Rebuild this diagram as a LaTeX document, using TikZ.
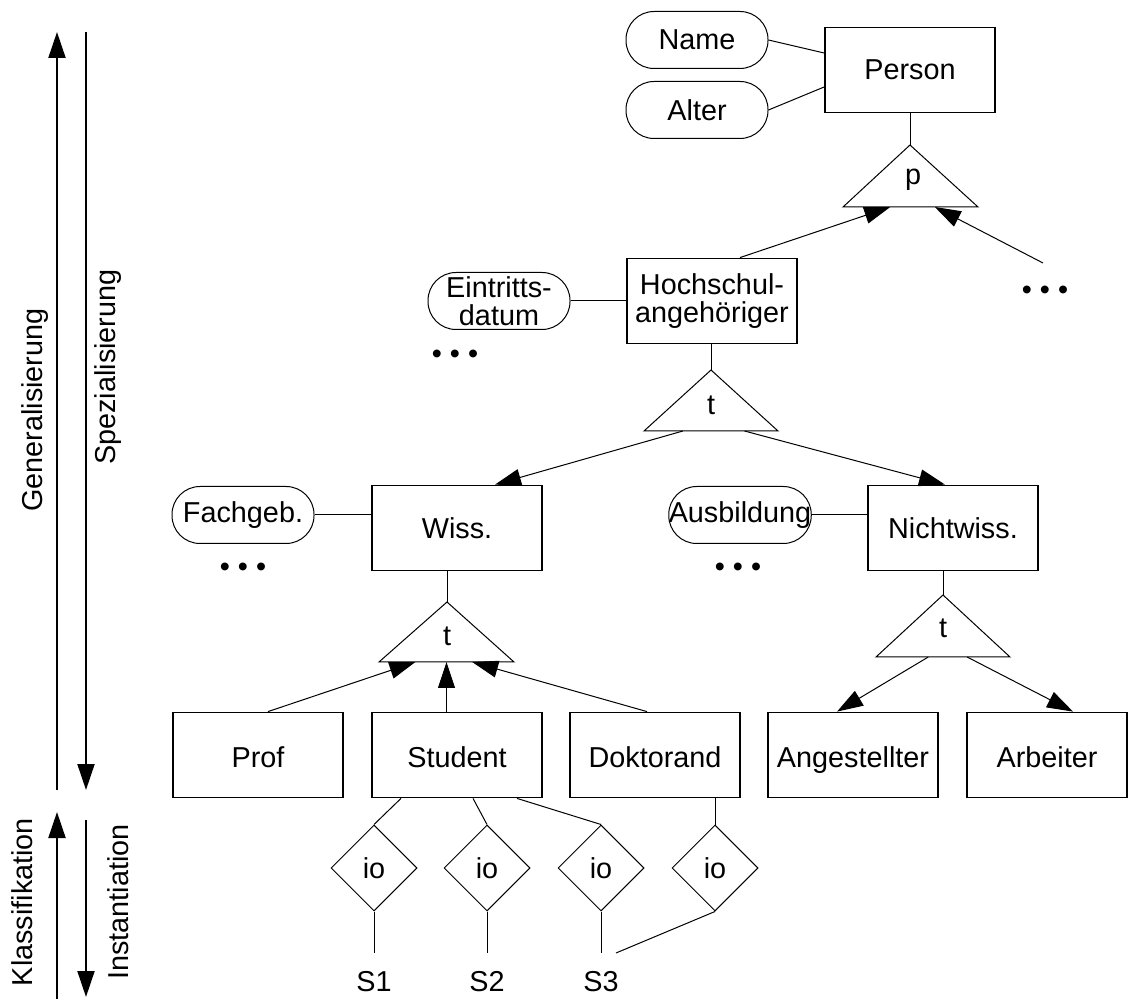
\documentclass[tikz,border=0pt]{standalone}
\usepackage{fontspec}
\setmainfont{Liberation Sans}
\usetikzlibrary{arrows.meta,shapes.geometric,calc}

\begin{document}
\begin{tikzpicture}[
  x=0.5pt, y=-0.5pt,
  font=\fontsize{14.4}{14}\selectfont,
  box/.style={draw, line width=0.9pt, minimum width=85pt, minimum height=42.5pt, inner sep=0pt, align=center},
  leaf/.style={box, text height=12pt, text depth=0pt},
  attr/.style={draw, line width=0.5pt, rounded corners=14pt, minimum width=71pt, minimum height=28.5pt, inner sep=0pt, align=center},
  isa/.style={draw, line width=0.5pt},
  io/.style={draw, diamond, line width=0.5pt, minimum width=43pt, minimum height=43pt, inner sep=0pt},
  lnk/.style={line width=0.5pt},
  arr/.style={-{Triangle[length=13pt, width=8.5pt]}, line width=0.5pt},
  bigarr/.style={-{Triangle[length=13pt, width=8.5pt]}, line width=1pt},
  side/.style={rotate=90, inner sep=0pt},
  inst/.style={anchor=north, inner xsep=0pt, inner ysep=9pt}
]
\useasboundingbox (0,0) rectangle (1130,999);
% left: direction arrows
\coordinate (genA) at (57,790);
\coordinate (genB) at (57,32);
\coordinate (spzA) at (86,32);
\coordinate (spzB) at (86,790);
\coordinate (klaA) at (57,999);
\coordinate (klaB) at (57,812);
\coordinate (insA) at (86,820);
\coordinate (insB) at (86,997);
\draw[bigarr] (genA) -- (genB);
\draw[bigarr] (spzA) -- (spzB);
\draw[bigarr] (klaA) -- (klaB);
\draw[bigarr] (insA) -- (insB);
\node[side] (gen) at (35,410) {Generalisierung};
\node[side] (spz) at (108,367) {Spezialisierung};
\node[side] (kla) at (22,902) {Klassifikation};
\node[side] (ins) at (118,902) {Instantiation};
% Person
\node[box] (person) at (910,70) {Person};
\node[attr] (name) at (697,40) {Name};
\node[attr] (alter) at (697,110) {Alter};
\draw[lnk] (name.east) -- ([yshift=8.5pt]person.west);
\draw[lnk] (alter.east) -- ([yshift=-8.5pt]person.west);
\coordinate (pTop) at (910,145);
\coordinate (pL) at (843,207);
\coordinate (pR) at (978,207);
\draw[isa] (pTop) -- (pL) -- (pR) -- cycle;
\node (p) at (913,180) {p};
\draw[lnk] (person.south) -- (pTop);
\node[inner sep=0pt] (pDots) at (1045,293) {• • •};
\coordinate (pOther) at (1043,263);
\draw[arr] (pOther) -- ($(pL)!0.68!(pR)$);
% Hochschulangehoeriger
\node[box] (hsa) at (712,301) {Hochschul-\\angehöriger};
\node[attr] (eintr) at (499,301) {Eintritts-\\datum};
\draw[lnk] (eintr.east) -- (hsa.west);
\node[inner sep=0pt] (hDots) at (455,357) {• • •};
\draw[arr] ([xshift=14pt]hsa.north) -- ($(pL)!0.35!(pR)$);
\coordinate (t1Top) at (711,370);
\coordinate (t1L) at (644,431);
\coordinate (t1R) at (778,431);
\draw[isa] (t1Top) -- (t1L) -- (t1R) -- cycle;
\node (t1) at (711,405) {t};
\draw[lnk] (t1Top |- hsa.south) -- (t1Top);
% Wiss. / Nichtwiss.
\node[box] (wiss) at (457,528) {Wiss.};
\node[attr] (fach) at (243,515) {Fachgeb.};
\draw[lnk] (fach.east) -- (fach.east -| wiss.west);
\node[inner sep=0pt] (wDots) at (243,570) {• • •};
\node[box] (nwiss) at (953,528) {Nichtwiss.};
\node[attr] (ausb) at (740,515) {Ausbildung};
\draw[lnk] (ausb.east) -- (ausb.east -| nwiss.west);
\node[inner sep=0pt] (nDots) at (738,570) {• • •};
\draw[arr] ($(t1L)!0.29!(t1R)$) -- ([xshift=19pt]wiss.north);
\draw[arr] ($(t1L)!0.75!(t1R)$) -- ([xshift=-4pt]nwiss.north);
\coordinate (t2Top) at (447,602);
\coordinate (t2L) at (379,662);
\coordinate (t2R) at (514,662);
\coordinate (t2M) at ($(t2L)!0.5!(t2R)$);
\draw[isa] (t2Top) -- (t2L) -- (t2R) -- cycle;
\node (t2) at (447,636) {t};
\draw[lnk] (t2Top |- wiss.south) -- (t2Top);
\coordinate (t3Top) at (943,595);
\coordinate (t3L) at (876,657);
\coordinate (t3R) at (1010,657);
\draw[isa] (t3Top) -- (t3L) -- (t3R) -- cycle;
\node (t3) at (943,628) {t};
\draw[lnk] (t3Top |- nwiss.south) -- (t3Top);
% leaves
\node[leaf] (prof) at (258,755) {Prof};
\node[leaf] (student) at (457,755) {Student};
\node[leaf] (dokt) at (655,755) {Doktorand};
\node[leaf] (angest) at (853,755) {Angestellter};
\node[leaf, minimum width=80pt] (arb) at (1047,755) {Arbeiter};
\draw[arr] ([xshift=5pt]prof.north) -- ($(t2L)!0.27!(t2R)$);
\draw[arr] (t2M |- student.north) -- (t2M);
\draw[arr] ([xshift=-4pt]dokt.north) -- ($(t2L)!0.69!(t2R)$);
\draw[arr] ($(t3L)!0.39!(t3R)$) -- ([xshift=-8pt]angest.north);
\draw[arr] ($(t3L)!0.68!(t3R)$) -- ([xshift=13pt]arb.north);
% instances
\node[io] (io1) at (374,868) {io};
\node[io] (io2) at (487,868) {io};
\node[io] (io3) at (601,868) {io};
\node[io] (io4) at (715,868) {io};
\draw[lnk] ([xshift=-28pt]student.south) -- (io1.north);
\draw[lnk] ([xshift=8pt]student.south) -- (io2.north);
\draw[lnk] ([xshift=30pt]student.south) -- (io3.north);
\draw[lnk] ([xshift=30pt]dokt.south) -- (io4.north);
\node[inst] (s1) at (374,953) {S1};
\node[inst] (s2) at (487,953) {S2};
\node[inst] (s3) at (601,953) {S3};
\draw[lnk] (io1.south) -- (s1.north);
\draw[lnk] (io2.south) -- (s2.north);
\draw[lnk] (io3.south) -- (s3.north);
\draw[lnk] (io4.south) -- ([xshift=7.5pt]s3.north);
\end{tikzpicture}
\end{document}
